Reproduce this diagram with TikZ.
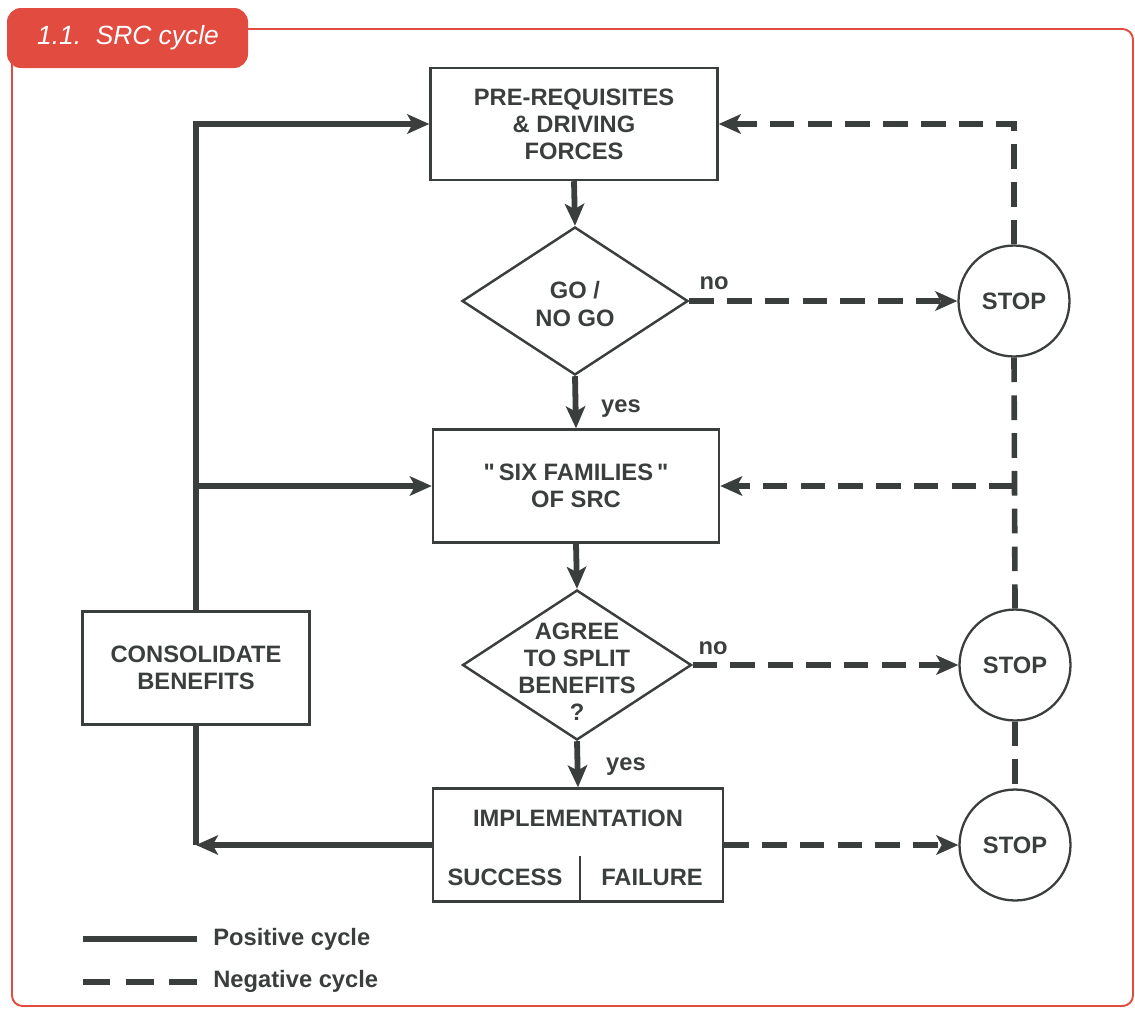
\documentclass[tikz,border=0pt]{standalone}
\usepackage{fontspec}
\setmainfont{Liberation Sans}[Ligatures=TeXOff]
\usetikzlibrary{arrows.meta,shapes.geometric}
\definecolor{ink}{HTML}{3A3E3D}
\definecolor{framered}{HTML}{E24B40}
\tikzset{
  boxtext/.style={font=\fontsize{13.5}{15.4}\selectfont\bfseries, text=ink, align=center},
  box/.style={draw=ink, line width=1.4pt, rectangle, inner sep=0pt, boxtext},
  dia/.style={draw=ink, line width=1.4pt, diamond, inner sep=0pt},
  stopc/.style={draw=ink, line width=1.3pt, circle, inner sep=0pt, minimum size=2.22cm, boxtext},
  lbl/.style={font=\fontsize{13.5}{15.4}\selectfont\bfseries, text=ink, inner sep=0pt},
  tip/.style={-{Stealth[length=12.5pt,width=11pt,inset=3pt]}},
  posline/.style={draw=ink, line width=3.3pt, line join=miter},
  posarrow/.style={posline, tip},
  negline/.style={draw=ink, line width=3.2pt, dash pattern=on 14pt off 7.5pt},
  negarrow/.style={negline, tip},
}
\begin{document}
\begin{tikzpicture}[x=0.02cm, y=-0.02cm]
\useasboundingbox (0,0) rectangle (1135,1008);

% frame and title tab
\draw[framered, line width=1.1pt, rounded corners=6pt] (12,29) rectangle (1133,1006);
\fill[framered, rounded corners=8pt] (7,8) rectangle (248,68);
\node[text=white, font=\fontsize{15}{18}\selectfont\itshape, inner sep=0pt] (title) at (128,38) {1.1.\ \ SRC cycle};

% main flow
\node[box, minimum width=5.74cm, minimum height=2.24cm] (pre) at (574,124)
  {PRE-REQUISITES\\ \& DRIVING\\ FORCES};
\node[dia, minimum width=4.52cm, minimum height=2.96cm] (go) at (575,301) {};
\node[boxtext, inner sep=0pt] (gotext) at (575,304) {GO /\\ NO GO};
\node[box, minimum width=5.72cm, minimum height=2.26cm] (six) at (576,486)
  {"\,SIX FAMILIES\,"\\ OF SRC};
\node[dia, minimum width=4.58cm, minimum height=3.00cm] (agree) at (577,665) {};
\node[boxtext, inner sep=0pt] (agreetext) at (577,672) {AGREE\\ TO SPLIT\\ BENEFITS\\ ?};
\node[box, minimum width=5.80cm, minimum height=2.26cm] (impl) at (578,845) {};
\node[boxtext, inner sep=0pt] (impltext) at (578,818) {IMPLEMENTATION};
\node[boxtext, inner sep=0pt] (success) at (505,877) {SUCCESS};
\node[boxtext, inner sep=0pt] (failure) at (652,877) {FAILURE};
\coordinate (split) at (580,856);
\draw[ink, line width=1.4pt] (split) -- (split |- impl.south);

\node[box, minimum width=4.54cm, minimum height=2.26cm] (cons) at (196,668)
  {CONSOLIDATE\\ BENEFITS};

\node[stopc] (stop1) at (1014,301) {STOP};
\node[stopc] (stop2) at (1015,665) {STOP};
\node[stopc] (stop3) at (1015,845) {STOP};

% labels on decisions
\node[lbl] (no1) at (714,283) {no};
\node[lbl] (yes1) at (621,409) {yes};
\node[lbl] (no2) at (713,648) {no};
\node[lbl] (yes2) at (626,767) {yes};

% positive cycle
\draw[posarrow] (pre.south) -- (go.north);
\draw[posarrow] (go.south) -- (six.north);
\draw[posarrow] (six.south) -- (agree.north);
\draw[posarrow] (agree.south) -- (impl.north);
\draw[posarrow] (cons.north) |- (pre.west);
\draw[posarrow] (cons.north |- six.west) -- (six.west);
\draw[posline] (cons.south) -- (impl.west -| cons.south);
\draw[posarrow] (impl.west) -- (impl.west -| cons.south);

% negative cycle
\draw[negarrow] (go.east) -- (stop1.west);
\draw[negarrow] (stop1.north) |- (pre.east);
\draw[negline] (stop1.south) -- (stop2.north);
\draw[negarrow] (stop1.south |- six.east) -- (six.east);
\draw[negarrow] (agree.east) -- (stop2.west);
\draw[negline] (stop2.south) -- (stop3.north);
\draw[negarrow] (impl.east) -- (stop3.west);

% legend
\coordinate (lega) at (83,939);
\coordinate (legb) at (197,939);
\coordinate (legc) at (83,982);
\coordinate (legd) at (197,982);
\draw[posline] (lega) -- (legb);
\draw[draw=ink, line width=3.2pt, dash pattern=on 15.6pt off 9pt] (legc) -- (legd);
\node[lbl, anchor=west] (legpos) at (213,939) {Positive cycle};
\node[lbl, anchor=west] (legneg) at (213,981) {Negative cycle};
\end{tikzpicture}
\end{document}
